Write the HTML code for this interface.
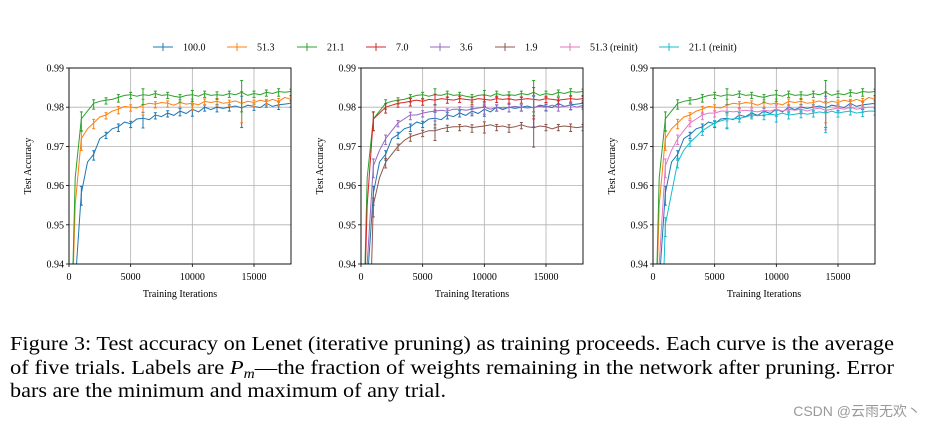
<!DOCTYPE html>
<html><head><meta charset="utf-8"><style>
html,body{margin:0;padding:0;background:#fff;}
svg{display:block;font-family:"Liberation Serif",serif;}
</style></head><body>
<svg id="fig" width="927" height="431" viewBox="0 0 927 431" xmlns="http://www.w3.org/2000/svg">
<g id="legend"></g>
<g id="panels"></g>
<g font-size="20.5" fill="#000">
<text x="10" y="350" textLength="884" lengthAdjust="spacingAndGlyphs">Figure 3: Test accuracy on Lenet (iterative pruning) as training proceeds. Each curve is the average</text>
<text x="10" y="374" textLength="884" lengthAdjust="spacingAndGlyphs">of five trials. Labels are <tspan font-style="italic">P</tspan><tspan font-style="italic" font-size="14" dy="4">m</tspan><tspan dy="-4">—the fraction of weights remaining in the network after pruning. Error</tspan></text>
<text x="10" y="397" textLength="436" lengthAdjust="spacingAndGlyphs">bars are the minimum and maximum of any trial.</text>
</g>
<text x="921" y="416" text-anchor="end" font-size="14" fill="#999" font-family="Liberation Sans,Noto Sans CJK SC,sans-serif">CSDN @云雨无欢丶</text>
</svg>
<script>
const xTicks=[0,5000,10000,15000];
const yTicks=[0.94,0.95,0.96,0.97,0.98,0.99];
const step=500;
const s100=[0.90,0.935,0.958,0.966,0.968,0.972,0.973,0.9745,0.975,0.9762,0.9758,0.977,0.9772,0.9768,0.978,0.9776,0.9785,0.9779,0.979,0.9784,0.9795,0.9788,0.980,0.9794,0.980,0.9797,0.980,0.9803,0.9798,0.9805,0.9802,0.9799,0.981,0.9802,0.9806,0.9808,0.981];
const s513=[0.90,0.955,0.972,0.9745,0.976,0.9775,0.978,0.979,0.9795,0.9802,0.980,0.9798,0.9805,0.981,0.9808,0.9812,0.981,0.9805,0.9812,0.9808,0.981,0.9806,0.9815,0.9812,0.9815,0.981,0.9812,0.9816,0.981,0.9815,0.9812,0.9818,0.9814,0.982,0.9815,0.9825,0.982];
const s211=[0.90,0.962,0.977,0.979,0.981,0.9815,0.9818,0.982,0.9825,0.983,0.9832,0.9828,0.9832,0.983,0.9835,0.983,0.9832,0.9828,0.9825,0.983,0.9832,0.9828,0.9835,0.983,0.9832,0.983,0.9835,0.9832,0.9838,0.983,0.9835,0.9832,0.9838,0.9835,0.984,0.9838,0.984];
const s70=[0.90,0.955,0.977,0.9785,0.980,0.9805,0.981,0.9812,0.9815,0.9818,0.9815,0.982,0.9818,0.9822,0.982,0.9818,0.9822,0.982,0.9818,0.9822,0.982,0.9818,0.9822,0.982,0.9822,0.9818,0.982,0.9822,0.982,0.9818,0.9822,0.982,0.9818,0.982,0.9822,0.982,0.9822];
const s36=[0.90,0.94,0.965,0.969,0.972,0.974,0.976,0.977,0.978,0.978,0.9785,0.9788,0.979,0.9792,0.979,0.9795,0.9795,0.9792,0.9795,0.9798,0.980,0.9795,0.980,0.9798,0.980,0.9802,0.980,0.9798,0.980,0.9802,0.980,0.9805,0.980,0.9802,0.9805,0.980,0.9805];
const s19=[0.90,0.90,0.955,0.962,0.966,0.968,0.970,0.9715,0.9725,0.973,0.9735,0.974,0.974,0.9745,0.9748,0.975,0.975,0.9752,0.9748,0.975,0.9752,0.9755,0.975,0.9752,0.9748,0.975,0.9755,0.975,0.9748,0.9752,0.975,0.9745,0.975,0.9752,0.975,0.9748,0.975];
const s513r=[0.90,0.94,0.965,0.969,0.972,0.974,0.976,0.977,0.978,0.9785,0.9785,0.979,0.979,0.9788,0.979,0.9792,0.979,0.9788,0.9792,0.979,0.9795,0.979,0.9795,0.9792,0.9795,0.979,0.9795,0.9798,0.9792,0.9795,0.9798,0.9795,0.980,0.9795,0.9798,0.980,0.980];
const s211r=[0.90,0.90,0.950,0.958,0.966,0.969,0.971,0.9725,0.974,0.975,0.976,0.9765,0.977,0.977,0.9772,0.9775,0.978,0.9778,0.978,0.9782,0.978,0.9785,0.978,0.9782,0.9785,0.9782,0.9785,0.9788,0.9785,0.979,0.9785,0.9788,0.979,0.9785,0.9788,0.979,0.979];
const errHalf=[0.003,0.0015,0.001,0.0012,0.001,0.0025,0.001,0.001,0.0012,0.0018,0.001,0.0012,0.001,0.005,0.001,0.001,0.0012,0.001];
const names=['100.0','51.3','21.1','7.0','3.6','1.9','51.3 (reinit)','21.1 (reinit)'];
const colors=['#1f77b4','#ff7f0e','#2ca02c','#d62728','#9467bd','#8c564b','#e377c2','#17becf'];
const seriesData=[s100,s513,s211,s70,s36,s19,s513r,s211r];
const panelSeries=[[0,1,2],[0,2,3,4,5],[0,1,2,6,7]];
const panelLeft=[69,361,653];
const NS='http://www.w3.org/2000/svg';
function mk(t,a,p){const e=document.createElementNS(NS,t);for(const k in a)e.setAttribute(k,a[k]);p.appendChild(e);return e;}
const W=222,top0=68,bot=264;
const lg=document.getElementById('legend');
const lx=[153,227,297,366,430,495,560,659];
names.forEach((n,i)=>{const g=mk('g',{},lg);


const x=lx[i];mk('line',{x1:x,y1:47,x2:x+20,y2:47,stroke:colors[i],'stroke-width':1},g);
mk('line',{x1:x+10,y1:43,x2:x+10,y2:51,stroke:colors[i],'stroke-width':1},g);
const t=mk('text',{x:x+30,y:50.5,'font-size':10},g);t.textContent=n;});
const P=document.getElementById('panels');
panelLeft.forEach((L,pi)=>{
const sx=v=>L+v/18000*W, sy=v=>bot-(v-0.94)/0.05*(bot-top0);
const g=mk('g',{},P);


const cp=mk('clipPath',{id:'c'+pi},g);mk('rect',{x:L,y:top0,width:W,height:bot-top0},cp);
xTicks.forEach(t=>{mk('line',{x1:sx(t),y1:top0,x2:sx(t),y2:bot,stroke:'#b0b0b0','stroke-width':0.8},g);
mk('line',{x1:sx(t),y1:bot,x2:sx(t),y2:bot+3,stroke:'#000','stroke-width':0.8},g);
const tx=mk('text',{x:sx(t),y:bot+16,'font-size':10,'text-anchor':'middle'},g);tx.textContent=t;});
yTicks.forEach(t=>{mk('line',{x1:L,y1:sy(t),x2:L+W,y2:sy(t),stroke:'#b0b0b0','stroke-width':0.8},g);
mk('line',{x1:L-3,y1:sy(t),x2:L,y2:sy(t),stroke:'#000','stroke-width':0.8},g);
const ty=mk('text',{x:L-5,y:sy(t)+3.5,'font-size':10,'text-anchor':'end'},g);ty.textContent=t.toFixed(2);});
const cg=mk('g',{'clip-path':'url(#c'+pi+')'},g);
panelSeries[pi].forEach(si=>{const d=seriesData[si];
const pts=d.map((v,i)=>sx(i*step).toFixed(1)+','+sy(v).toFixed(1)).join(' ');
const pl=mk('polyline',{points:pts,fill:'none',stroke:colors[si],'stroke-width':1},cg);


errHalf.forEach((e,k)=>{const idx=(k+1)*2;if(idx>=d.length)return;const v=d[idx];const x=sx(idx*step);
mk('line',{x1:x,y1:sy(v-e),x2:x,y2:sy(v+e*0.6),stroke:colors[si],'stroke-width':1},cg);
mk('line',{x1:x-1.5,y1:sy(v-e),x2:x+1.5,y2:sy(v-e),stroke:colors[si],'stroke-width':1},cg);
mk('line',{x1:x-1.5,y1:sy(v+e*0.6),x2:x+1.5,y2:sy(v+e*0.6),stroke:colors[si],'stroke-width':1},cg);});});
mk('rect',{x:L,y:top0,width:W,height:bot-top0,fill:'none',stroke:'#000','stroke-width':0.9},g);
const xl=mk('text',{x:L+W/2,y:bot+33,'font-size':10,'text-anchor':'middle'},g);xl.textContent='Training Iterations';

const yl=mk('text',{x:0,y:0,'font-size':10,'text-anchor':'middle',transform:'translate('+(L-38)+','+((top0+bot)/2)+') rotate(-90)'},g);yl.textContent='Test Accuracy';

});
</script>
</body></html>
